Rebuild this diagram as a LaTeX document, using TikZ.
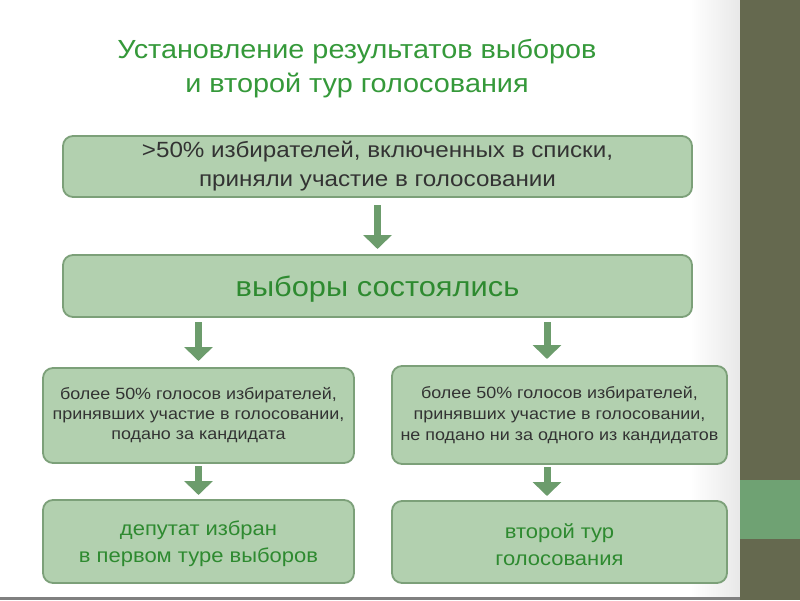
\documentclass[tikz,border=0pt]{standalone}
\usepackage{fontspec}
\setmainfont{Liberation Sans}[FakeStretch=1.1]
\usetikzlibrary{arrows.meta}
\definecolor{boxfill}{HTML}{B2D0AF}
\definecolor{boxedge}{HTML}{7CA079}
\definecolor{titlegreen}{HTML}{35993A}
\definecolor{textgreen}{HTML}{2E8A30}
\definecolor{textgrey}{HTML}{333333}
\definecolor{arrowgreen}{HTML}{6C9C6C}
\definecolor{stripe}{HTML}{65694F}
\definecolor{band}{HTML}{6FA273}
\tikzset{
  box/.style={draw=boxedge, line width=1.8pt, fill=boxfill, rounded corners=10pt,
    inner sep=0pt, outer sep=0pt, align=center},
  barrow/.style={draw=arrowgreen, line width=7pt,
    -{Triangle[width=28pt,length=14pt]}},
}
\begin{document}
\begin{tikzpicture}[x=1pt,y=-1pt]
\useasboundingbox (0,0) rectangle (800,600);
% slide background
\fill[white] (0,0) rectangle (740,600);
\shade[left color=white, right color=black!9] (690,0) rectangle (740,597);
\fill[black!50] (0,597) rectangle (740,600);
\fill[stripe] (740,0) rectangle (800,600);
\fill[band] (740,480) rectangle (800,539);
% title
\node[text=titlegreen, align=center, font=\fontsize{26.2}{34}\selectfont] (title) at (357,69)
  {Установление результатов выборов\\и второй тур голосования};
% boxes
\node[box, minimum width=629pt, minimum height=61pt, text=textgrey,
  font=\fontsize{22}{29}\selectfont] (top) at (377.5,166.5)
  {>50\% избирателей, включенных в списки,\\приняли участие в голосовании};
\node[box, minimum width=629pt, minimum height=62pt, text=textgreen,
  font=\fontsize{28}{32}\selectfont] (mid) at (377.5,286)
  {\rule{0pt}{27pt}выборы состоялись};
\node[box, minimum width=311pt, minimum height=95pt, text=textgrey,
  font=\fontsize{16.3}{20}\selectfont] (L1) at (198.5,415.5)
  {более 50\% голосов избирателей,\\принявших участие в голосовании,\\подано за кандидата\rule[-4pt]{0pt}{4pt}};
\node[box, minimum width=335pt, minimum height=98pt, text=textgrey,
  font=\fontsize{16.3}{21}\selectfont] (R1) at (559.5,415)
  {более 50\% голосов избирателей,\\принявших участие в голосовании,\\не подано ни за одного из кандидатов\rule[-4pt]{0pt}{4pt}};
\node[box, minimum width=311pt, minimum height=83pt, text=textgreen,
  font=\fontsize{20}{27}\selectfont] (L2) at (198.5,541.5)
  {\rule{0pt}{20pt}депутат избран\\в первом туре выборов};
\node[box, minimum width=335pt, minimum height=82pt, text=textgreen,
  font=\fontsize{20}{27}\selectfont] (R2) at (559.5,542)
  {\rule{0pt}{20pt}второй тур\\голосования};
% arrows
\coordinate (ra) at ([xshift=-12.5pt]R1.north);
\draw[barrow, shorten <=8pt, shorten >=6pt] (top.south) -- (mid.north);
\draw[barrow, shorten <=5pt, shorten >=7pt] (mid.south -| L1.north) -- (L1.north);
\draw[barrow, shorten <=5pt, shorten >=7pt] (mid.south -| ra) -- (ra);
\draw[barrow, shorten <=3pt, shorten >=5pt] (L1.south) -- (L2.north);
\draw[barrow, shorten <=3pt, shorten >=5pt] (R1.south -| ra) -- (R2.north -| ra);
\end{tikzpicture}
\end{document}
